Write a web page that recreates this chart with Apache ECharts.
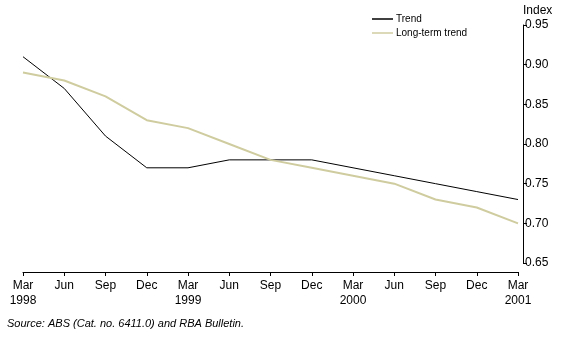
<!DOCTYPE html>
<html><head><meta charset="utf-8">
<script src="https://cdn.jsdelivr.net/npm/echarts@6/dist/echarts.min.js"></script>
<style>html,body{margin:0;padding:0;background:#fff}#c{width:575px;height:343px}</style>
</head><body><div id="c"></div>
<script>
var months = ['Mar','Jun','Sep','Dec','Mar','Jun','Sep','Dec','Mar','Jun','Sep','Dec','Mar'];
var years  = ['1998','','','','1999','','','','2000','','','','2001'];
var trend    = [0.91,0.87,0.81,0.77,0.77,0.78,0.78,0.78,0.77,0.76,0.75,0.74,0.73];
var longTerm = [0.89,0.88,0.86,0.83,0.82,0.80,0.78,0.77,0.76,0.75,0.73,0.72,0.70];
var yTicks = [0.65,0.70,0.75,0.80,0.85,0.90,0.95];

var cats = months.map(function(m,i){return m + (years[i] ? '\n' + years[i] : '');});
var chart = echarts.init(document.getElementById('c'), null, {renderer:'canvas'});
var font = 'Liberation Sans, Arial, sans-serif';
chart.setOption({
  animation:false,
  grid:{left:23,right:57,top:25,bottom:80,containLabel:false},
  legend:{
    orient:'vertical', left:367, top:9, itemWidth:21, itemHeight:1.5, itemGap:4,
    textStyle:{fontFamily:font,fontSize:10,color:'#000',padding:[0,0,0,-2]},
    data:[{name:'Trend',icon:'rect'},{name:'Long-term trend',icon:'rect'}]
  },
  xAxis:{
    type:'category', data:cats, boundaryGap:false, offset:9,
    axisLine:{lineStyle:{color:'#000',width:1}},
    axisTick:{show:true,length:4,lineStyle:{color:'#000'}},
    axisLabel:{color:'#000',fontFamily:font,fontSize:12,lineHeight:15,margin:6,interval:0},
    splitLine:{show:false}
  },
  yAxis:{
    type:'value', position:'right', offset:5, min:yTicks[0], max:yTicks[yTicks.length-1], interval:0.05,
    name:'Index', nameLocation:'end', nameGap:8,
    nameTextStyle:{fontFamily:font,fontSize:12,color:'#000',align:'left',padding:[0,0,0,0]},
    axisLine:{show:true,lineStyle:{color:'#000',width:1}},
    axisTick:{show:true,length:4,lineStyle:{color:'#000'}},
    axisLabel:{color:'#000',fontFamily:font,fontSize:12,margin:2,formatter:function(v){return v.toFixed(2);}},
    splitLine:{show:false}
  },
  series:[
    {name:'Trend',type:'line',data:trend,symbol:'none',lineStyle:{color:'#000',width:1},itemStyle:{color:'#000'}},
    {name:'Long-term trend',type:'line',data:longTerm,symbol:'none',lineStyle:{color:'#cfcc9f',width:2},itemStyle:{color:'#cfcc9f'}}
  ],
  graphic:[{type:'text',left:7,top:318,style:{text:'Source: ABS (Cat. no. 6411.0) and RBA Bulletin.',fontFamily:font,fontSize:11,fontStyle:'italic',fill:'#000'}}]
});
</script></body></html>
